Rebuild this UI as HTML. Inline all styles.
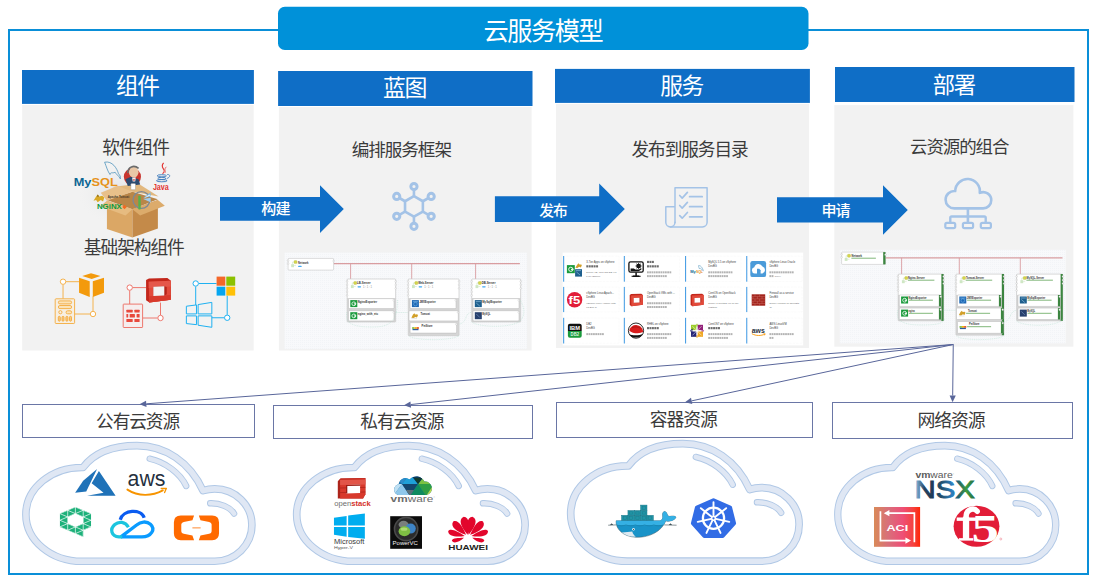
<!DOCTYPE html>
<html lang="zh"><head><meta charset="utf-8"><title>云服务模型</title>
<style>
html,body{margin:0;padding:0;background:#fff;}
body{width:1097px;height:583px;overflow:hidden;font-family:"Liberation Sans",sans-serif;}
svg{display:block;}
.cj{font-family:"Liberation Sans","Noto Sans CJK SC",sans-serif;}
</style></head><body>
<svg width="1097" height="583" viewBox="0 0 1097 583" font-family="Liberation Sans, sans-serif">
<rect width="1097" height="583" fill="#fff"/>
<rect x="9" y="30" width="1079" height="544" fill="none" stroke="#0a8fd8" stroke-width="2"/><rect x="278" y="6.7" width="530.5" height="43.4" rx="6.8" fill="#0091d9"/><text class="cj" x="483.59" y="39.56" font-size="25.24" letter-spacing="-1.51" fill="#fff">云服务模型</text><rect x="22.2" y="105" width="231.5" height="245.5" fill="#f2f2f2"/><rect x="22" y="70" width="231.9" height="33.9" fill="#0f6ec6"/><rect x="278.9" y="107" width="252.7" height="243.5" fill="#f2f2f2"/><rect x="278.1" y="71" width="254.4" height="35.0" fill="#0f6ec6"/><rect x="556" y="103.9" width="253.0" height="244.1" fill="#f2f2f2"/><rect x="555" y="68.9" width="254.9" height="34.0" fill="#0f6ec6"/><rect x="834.3" y="105.1" width="239.1" height="241.6" fill="#f2f2f2"/><rect x="835" y="67" width="239.5" height="35.0" fill="#0f6ec6"/><text class="cj" x="116.05" y="94.37" font-size="22.69" letter-spacing="-1.36" fill="#fff">组件</text><text class="cj" x="382.95" y="96.46" font-size="22.92" letter-spacing="-1.38" fill="#fff">蓝图</text><text class="cj" x="660.23" y="94.15" font-size="22.76" letter-spacing="-1.37" fill="#fff">服务</text><text class="cj" x="932.86" y="93.30" font-size="22.34" letter-spacing="-1.34" fill="#fff">部署</text><text class="cj" x="102.27" y="153.73" font-size="17.70" letter-spacing="-1.06" fill="#3b3b3b">软件组件</text><text class="cj" x="83.83" y="254.49" font-size="17.73" letter-spacing="-1.06" fill="#3b3b3b">基础架构组件</text><text class="cj" x="351.80" y="156.23" font-size="17.59" letter-spacing="-1.06" fill="#3b3b3b">编排服务框架</text><text class="cj" x="631.43" y="155.98" font-size="17.68" letter-spacing="-1.06" fill="#3b3b3b">发布到服务目录</text><text class="cj" x="910.00" y="152.66" font-size="17.47" letter-spacing="-1.05" fill="#3b3b3b">云资源的组合</text><path d="M220 196.9H320V185.2L343.8 209.1L320 233V220.8H220Z" fill="#0f6ec6"/><path d="M494.9 196.2H599.2V183.4L624.8 209.10000000000002L599.2 234.8V221.9H494.9Z" fill="#0f6ec6"/><path d="M777 197.3H883V185.2L907.8 210.0L883 234.8V222.4H777Z" fill="#0f6ec6"/><text class="cj" x="261.34" y="214.46" font-size="15.03" font-weight="500" letter-spacing="-0.90" fill="#fff">构建</text><text class="cj" x="539.13" y="215.52" font-size="14.78" font-weight="500" letter-spacing="-0.89" fill="#fff">发布</text><text class="cj" x="821.42" y="215.91" font-size="15.02" font-weight="500" letter-spacing="-0.90" fill="#fff">申请</text><rect x="22.5" y="404.5" width="232.0" height="33.0" fill="#fff" stroke="#6a76a6" stroke-width="1"/><rect x="273.5" y="405.5" width="259.0" height="33.0" fill="#fff" stroke="#6a76a6" stroke-width="1"/><rect x="556.5" y="402.5" width="256.0" height="35.0" fill="#fff" stroke="#6a76a6" stroke-width="1"/><rect x="832.5" y="402.5" width="240.0" height="36.0" fill="#fff" stroke="#6a76a6" stroke-width="1"/><text class="cj" x="96.06" y="427.94" font-size="17.66" letter-spacing="-1.06" fill="#3b3b3b">公有云资源</text><text class="cj" x="360.27" y="427.58" font-size="17.72" letter-spacing="-1.06" fill="#3b3b3b">私有云资源</text><text class="cj" x="649.80" y="425.69" font-size="17.82" letter-spacing="-1.07" fill="#3b3b3b">容器资源</text><text class="cj" x="917.39" y="426.89" font-size="17.87" letter-spacing="-1.07" fill="#3b3b3b">网络资源</text>
<g fill="none" stroke="#a4c3e7" stroke-width="2.6" stroke-linejoin="round"><path d="M413.95 196.10L422.87 201.25L422.87 211.55L413.95 216.70L405.03 211.55L405.03 201.25Z"/><line x1="413.95" y1="196.10" x2="413.95" y2="189.60"/><circle cx="413.95" cy="186.50" r="3.1" stroke-width="3"/><line x1="422.87" y1="201.25" x2="428.50" y2="198.00"/><circle cx="431.18" cy="196.45" r="3.1" stroke-width="3"/><line x1="422.87" y1="211.55" x2="428.50" y2="214.80"/><circle cx="431.18" cy="216.35" r="3.1" stroke-width="3"/><line x1="413.95" y1="216.70" x2="413.95" y2="223.20"/><circle cx="413.95" cy="226.30" r="3.1" stroke-width="3"/><line x1="405.03" y1="211.55" x2="399.40" y2="214.80"/><circle cx="396.72" cy="216.35" r="3.1" stroke-width="3"/><line x1="405.03" y1="201.25" x2="399.40" y2="198.00"/><circle cx="396.72" cy="196.45" r="3.1" stroke-width="3"/></g><g fill="none" stroke="#a4c3e7" stroke-width="1.5" stroke-linecap="round" stroke-linejoin="round"><path d="M675 222.5V187.8H707.1V222.3A4.6 4.6 0 0 1 702.5 226.9H670.4A4.6 4.6 0 0 1 665.8 222.3V206.8H675"/><path d="M675 222.3A4.6 4.6 0 0 1 670.4 226.9"/><path d="M679.7 195.5L682.2 198.1L687.4 192.4" stroke-width="1.7"/><line x1="689.6" y1="196.7" x2="702.2" y2="196.7" stroke-width="1.7"/><path d="M679.7 205.5L682.2 208.1L687.4 202.4" stroke-width="1.7"/><line x1="689.6" y1="206.7" x2="702.2" y2="206.7" stroke-width="1.7"/><path d="M679.7 215.6L682.2 218.2L687.4 212.5" stroke-width="1.7"/><line x1="689.6" y1="216.8" x2="702.2" y2="216.8" stroke-width="1.7"/></g><g fill="none" stroke="#a4c3e7" stroke-width="2.6" stroke-linejoin="round"><path d="M954.3 208.4A8.7 8.7 0 0 1 945.6 199.7A8.7 8.7 0 0 1 955.2 191.05A12.35 12.35 0 1 1 979.8 192.9A8.05 8.05 0 0 1 991.25 200.35A8.05 8.05 0 0 1 983.2 208.4Z"/><path d="M967.9 208.4V224" /><path d="M950.3 223V217.8A1.3 1.3 0 0 1 951.6 216.5H984.4A1.3 1.3 0 0 1 985.7 217.8V223" stroke-width="2.4"/><rect x="945.3" y="222.8" width="9.9" height="5.4" rx="1.6" stroke-width="2.2"/><rect x="962.9" y="222.8" width="10.2" height="5.4" rx="1.6" stroke-width="2.2"/><rect x="980.8" y="222.8" width="10.1" height="5.4" rx="1.6" stroke-width="2.2"/></g><g fill="none" stroke="#f4ab3d" stroke-width="0.9"><path d="M66 281.7H79.5M63.04 284.7V298.7M93 296.5V311M74.7 314H90"/><circle cx="63.04" cy="281.7" r="2.7" fill="#fff"/><circle cx="93" cy="314" r="2.7" fill="#fff"/><rect x="55.2" y="298.8" width="19.4" height="24.7" rx="0.8" fill="#f7efe2"/><rect x="58.4" y="300.9" width="13.2" height="3" rx="1.5" fill="#fbe3b8"/><rect x="58.4" y="305.5" width="13.2" height="3.1" rx="1.5" fill="#fbe3b8"/><circle cx="60.4" cy="312.2" r="1.6"/><rect x="66.1" y="310.8" width="5.5" height="3" rx="1.4" fill="#fbe3b8"/><rect x="58.3" y="316.3" width="2" height="4.9" rx="1" fill="#f8c983"/><rect x="62" y="316.3" width="2" height="4.9" rx="1" fill="#f8c983"/><rect x="65.9" y="316.3" width="2" height="4.9" rx="1" fill="#f8c983"/><rect x="69.5" y="316.3" width="2" height="4.9" rx="1" fill="#f8c983"/></g><path d="M82.25 275.88L91.03 273.14L100.48 275.88L91.69 278.95Z" fill="#f39a0c"/><path d="M79.07 277.86L89.72 281.37L89.72 297.07L79.07 292.68Z" fill="#f39a0c"/><path d="M92.79 281.37L103.99 277.86L103.99 292.68L92.79 297.07Z" fill="#f39a0c"/><g fill="none" stroke="#ec6a5f" stroke-width="0.9"><path d="M132.7 287.6H146.2M129.7 290.5V304M160.5 302.6V315M142.7 318H157.5"/><circle cx="129.7" cy="287.6" r="2.7" fill="#fff"/><circle cx="160.5" cy="318" r="2.7" fill="#fff"/><rect x="123.2" y="304.1" width="19.4" height="23.4" rx="0.6" fill="#f6eeee"/></g><g fill="#e8493c"><rect x="126.4" y="309.7" width="6.3" height="2.9" rx=".5"/><rect x="134.4" y="309.7" width="5.2" height="2.9" rx=".5"/><rect x="126.4" y="319.1" width="6.3" height="3.0" rx=".5"/><rect x="134.4" y="319.1" width="5.2" height="3.0" rx=".5"/><rect x="126.4" y="314.1" width="1.8" height="3.3" rx=".5"/><rect x="129.7" y="314.1" width="5.2" height="3.3" rx=".5"/><rect x="136.6" y="314.1" width="3" height="3.3" rx=".5"/></g><path d="M146.08 280.10L148.93 278.56L167.38 277.90L170.89 280.76L170.89 299.64L149.48 302.61L146.08 300.19Z" fill="#c3271b"/><path d="M148.71 281.86L170.67 280.76L170.67 299.64L149.26 302.50Z" fill="#e24a3b"/><path d="M148.71 281.86L170.67 280.76L170.67 286.47L148.71 287.89Z" fill="#e5574a"/><path d="M148.71 296.13L170.67 295.03L170.67 299.64L149.26 302.50Z" fill="#d83a2c"/><path d="M153.33 286.69L164.30 286.14L166.72 287.02L166.72 294.37L164.30 295.47L153.33 296.02Z" fill="#b3241a"/><path d="M153.33 286.69L164.30 286.14L164.30 295.47L153.33 296.02Z" fill="#f2f2f2"/><g fill="none" stroke="#1fb1f1" stroke-width="1"><path d="M198.7 283.5H216.6M195.7 286.5V305M227.2 295.6V314.8M211.8 317.75H224.2"/><circle cx="195.7" cy="283.5" r="2.7" fill="#fff"/><circle cx="227.2" cy="317.75" r="2.7" fill="#fff"/><path d="M186.37 306.23L196.47 304.91L196.47 313.91L186.37 313.91Z" /><path d="M198.11 304.58L211.84 302.39L211.84 313.91L198.11 313.91Z" /><path d="M186.37 315.89L196.47 315.89L196.47 324.67L186.37 323.57Z" /><path d="M198.11 315.89L211.84 315.89L211.84 327.31L198.11 325.22Z" /></g><rect x="216.6" y="276.6" width="8.7" height="9.1" fill="#f4672a"/><rect x="226.3" y="276.6" width="8.9" height="9.1" fill="#8cc100"/><rect x="216.6" y="286.7" width="8.7" height="8.9" fill="#05a6f0"/><rect x="226.3" y="286.7" width="8.9" height="8.9" fill="#ffc107"/><defs><g id="cloud"><path d="M82 561.3A56.1 46.9 0 0 1 25.9 514.4A56.1 46.9 0 0 1 83 467.5C94.5 452 115 445.6 137 445.6C165 445.6 190 462 203 490.7A37.2 36.2 0 0 1 214.7 488.9A37.2 36.2 0 0 1 251.9 525.1A37.2 36.2 0 0 1 214.7 561.3Z" fill="#fff" stroke="#b0c8e6" stroke-width="7.6" stroke-linejoin="round"/><path d="M82 561.3A56.1 46.9 0 0 1 25.9 514.4A56.1 46.9 0 0 1 83 467.5C94.5 452 115 445.6 137 445.6C165 445.6 190 462 203 490.7A37.2 36.2 0 0 1 214.7 488.9A37.2 36.2 0 0 1 251.9 525.1A37.2 36.2 0 0 1 214.7 561.3Z" fill="none" stroke="#dfe7f4" stroke-width="5.6" stroke-linejoin="round"/><path d="M149.7 458.7C165 462 180 473 186.2 486" fill="none" stroke="#b0c8e6" stroke-width="6.4" stroke-linecap="round"/><path d="M149.7 458.7C165 462 180 473 186.2 486" fill="none" stroke="#dfe7f4" stroke-width="4.6" stroke-linecap="round"/><path d="M210.2 503.3C220 503 230 507 234.1 513.6" fill="none" stroke="#b0c8e6" stroke-width="6.4" stroke-linecap="round"/><path d="M210.2 503.3C220 503 230 507 234.1 513.6" fill="none" stroke="#dfe7f4" stroke-width="4.6" stroke-linecap="round"/></g></defs><use href="#cloud" transform="translate(0.00 0.00) scale(1.0000 1.0000)"/><use href="#cloud" transform="translate(270.51 0.00) scale(1.0108 1.0000)"/><use href="#cloud" transform="translate(544.51 -9.22) scale(1.0108 1.0163)"/><use href="#cloud" transform="translate(812.78 0.00) scale(0.9645 1.0000)"/><defs><pattern id="dots" width="2" height="2" patternUnits="userSpaceOnUse"><rect width="2" height="2" fill="#f8f9fb"/><rect width="1" height="1" fill="#f2f4f7"/></pattern></defs><rect x="284.6" y="252.6" width="242.3" height="96.3" fill="url(#dots)"/><path d="M333.6 263.6H519.9" stroke="#d99da0" stroke-width="1.2" fill="none"/><path d="M350.6 263.6V278.9" stroke="#d99da0" stroke-width=".9" fill="none"/><path d="M411.7 263.6V278.9" stroke="#d99da0" stroke-width=".9" fill="none"/><path d="M475.6 263.6V278.9" stroke="#d99da0" stroke-width=".9" fill="none"/><rect x="288.1" y="258.4" width="45.5" height="11.7" rx=".8" fill="#fff" stroke="#bdbdbd" stroke-width=".5"/><circle cx="288.1" cy="260.6" r=".85" fill="#fff" stroke="#b8b8b8" stroke-width=".35"/><circle cx="288.1" cy="263.6" r=".85" fill="#fff" stroke="#b8b8b8" stroke-width=".35"/><circle cx="333.6" cy="261.0" r=".85" fill="#fff" stroke="#b8b8b8" stroke-width=".35"/><rect x="294.0" y="260.6" width="3" height="3" rx=".8" fill="#d6d64a" stroke="#a9b13a" stroke-width=".3"/><rect x="291.2" y="264.2" width="2.8" height="3" fill="#cfe7c4"/><path d="M292.6 264.2V262.0H294.0M294.0 265.6H296.0" stroke="#b8d8a8" stroke-width=".4" fill="none"/><text transform="translate(298.1 263.5) scale(.1)" font-size="29" font-weight="bold" fill="#333" textLength="105" lengthAdjust="spacingAndGlyphs">Network</text><rect x="298.1" y="265.8" width="3.6" height="1.3" rx=".65" fill="#3fa9f5"/><rect x="347.1" y="278.9" width="48.6" height="43.2" rx=".8" fill="#d6d6d6" stroke="#c2c2c2" stroke-width=".5"/><rect x="347.6" y="279.4" width="47.6" height="18.6" fill="#fff"/><circle cx="347.1" cy="281.4" r=".85" fill="#fff" stroke="#b8b8b8" stroke-width=".35"/><circle cx="347.1" cy="284.9" r=".85" fill="#fff" stroke="#b8b8b8" stroke-width=".35"/><circle cx="347.1" cy="288.4" r=".85" fill="#fff" stroke="#b8b8b8" stroke-width=".35"/><circle cx="347.1" cy="291.9" r=".85" fill="#fff" stroke="#b8b8b8" stroke-width=".35"/><circle cx="347.1" cy="295.4" r=".85" fill="#fff" stroke="#b8b8b8" stroke-width=".35"/><circle cx="395.7" cy="281.4" r=".85" fill="#fff" stroke="#b8b8b8" stroke-width=".35"/><circle cx="395.7" cy="284.9" r=".85" fill="#fff" stroke="#b8b8b8" stroke-width=".35"/><circle cx="395.7" cy="288.4" r=".85" fill="#fff" stroke="#b8b8b8" stroke-width=".35"/><rect x="353.7" y="281.5" width="3" height="3" rx=".8" fill="#d6d64a" stroke="#a9b13a" stroke-width=".3"/><rect x="350.9" y="285.1" width="2.8" height="3" fill="#cfe7c4"/><path d="M352.3 285.1V282.9H353.7M353.7 286.5H355.7" stroke="#b8d8a8" stroke-width=".4" fill="none"/><text transform="translate(357.1 284.2) scale(.1)" font-size="29" font-weight="bold" fill="#333" textLength="135" lengthAdjust="spacingAndGlyphs">LB-Server</text><rect x="357.5" y="286.2" width="3.6" height="1.3" rx=".65" fill="#3fa9f5"/><text transform="translate(363.1 287.9) scale(.1)" font-size="26" font-weight="normal" fill="#8a8a8a" textLength="90" lengthAdjust="spacingAndGlyphs">1 : 1 : 1</text><rect x="348.5" y="298.6" width="45.5" height="10.0" rx=".8" fill="#fff" stroke="#b9b9b9" stroke-width=".5"/><circle cx="393.7" cy="300.2" r=".85" fill="#fff" stroke="#b8b8b8" stroke-width=".35"/><rect x="350.3" y="300.1" width="7.0" height="7.0" fill="#1a9a3c"/><circle cx="353.8" cy="303.8" r="1.9" fill="none" stroke="#e9f7ec" stroke-width=".9"/><rect x="353.9" y="303.3" width="2.2" height="1.2" fill="#e9f7ec"/><text transform="translate(357.8 302.5) scale(.1)" font-size="29" font-weight="bold" fill="#333" textLength="192" lengthAdjust="spacingAndGlyphs">NginxExporter</text><rect x="348.5" y="310.7" width="45.5" height="10.2" rx=".8" fill="#fff" stroke="#b9b9b9" stroke-width=".5"/><circle cx="393.7" cy="312.3" r=".85" fill="#fff" stroke="#b8b8b8" stroke-width=".35"/><rect x="350.3" y="312.2" width="7.0" height="7.0" fill="#1a9a3c"/><circle cx="353.8" cy="315.9" r="1.9" fill="none" stroke="#e9f7ec" stroke-width=".9"/><rect x="353.9" y="315.4" width="2.2" height="1.2" fill="#e9f7ec"/><text transform="translate(357.8 314.6) scale(.1)" font-size="29" font-weight="bold" fill="#333" textLength="203" lengthAdjust="spacingAndGlyphs">nginx_with_etc</text><rect x="408.2" y="278.9" width="50.9" height="56.8" rx=".8" fill="#d6d6d6" stroke="#c2c2c2" stroke-width=".5"/><rect x="408.7" y="279.4" width="49.9" height="18.6" fill="#fff"/><circle cx="408.2" cy="281.4" r=".85" fill="#fff" stroke="#b8b8b8" stroke-width=".35"/><circle cx="408.2" cy="284.9" r=".85" fill="#fff" stroke="#b8b8b8" stroke-width=".35"/><circle cx="408.2" cy="288.4" r=".85" fill="#fff" stroke="#b8b8b8" stroke-width=".35"/><circle cx="408.2" cy="291.9" r=".85" fill="#fff" stroke="#b8b8b8" stroke-width=".35"/><circle cx="408.2" cy="295.4" r=".85" fill="#fff" stroke="#b8b8b8" stroke-width=".35"/><circle cx="459.1" cy="281.4" r=".85" fill="#fff" stroke="#b8b8b8" stroke-width=".35"/><circle cx="459.1" cy="284.9" r=".85" fill="#fff" stroke="#b8b8b8" stroke-width=".35"/><circle cx="459.1" cy="288.4" r=".85" fill="#fff" stroke="#b8b8b8" stroke-width=".35"/><rect x="414.8" y="281.5" width="3" height="3" rx=".8" fill="#d6d64a" stroke="#a9b13a" stroke-width=".3"/><rect x="412.0" y="285.1" width="2.8" height="3" fill="#cfe7c4"/><path d="M413.4 285.1V282.9H414.8M414.8 286.5H416.8" stroke="#b8d8a8" stroke-width=".4" fill="none"/><text transform="translate(418.2 284.2) scale(.1)" font-size="29" font-weight="bold" fill="#333" textLength="152" lengthAdjust="spacingAndGlyphs">Web-Server</text><rect x="418.6" y="286.2" width="3.6" height="1.3" rx=".65" fill="#3fa9f5"/><text transform="translate(424.2 287.9) scale(.1)" font-size="26" font-weight="normal" fill="#8a8a8a" textLength="90" lengthAdjust="spacingAndGlyphs">1 : 1 : 1</text><rect x="410.1" y="298.6" width="45.9" height="10.0" rx=".8" fill="#fff" stroke="#b9b9b9" stroke-width=".5"/><circle cx="455.7" cy="300.2" r=".85" fill="#fff" stroke="#b8b8b8" stroke-width=".35"/><rect x="411.9" y="300.1" width="7.0" height="7.0" fill="#1f68b4"/><circle cx="415.4" cy="304.1" r="1.8" fill="none" stroke="#6fb2e6" stroke-width=".6"/><path d="M412.9 301.7h5" stroke="#8cc3ee" stroke-width=".6"/><text transform="translate(419.4 302.5) scale(.1)" font-size="29" font-weight="bold" fill="#333" textLength="163" lengthAdjust="spacingAndGlyphs">JMXExporter</text><rect x="409" y="310.7" width="49.3" height="10.2" rx=".8" fill="#fff" stroke="#b9b9b9" stroke-width=".5"/><circle cx="458.0" cy="312.3" r=".85" fill="#fff" stroke="#b8b8b8" stroke-width=".35"/><path d="M411.4 317.7l1.6-3.2 1.4-1.2 .8 1.2 2-.2 .8 1-1 2.2-1.6-.6-1.8 1.2z" fill="#d2a02a"/><path d="M411.4 318.6h5.6" stroke="#bbb" stroke-width=".4"/><text transform="translate(420.5 314.6) scale(.1)" font-size="29" font-weight="bold" fill="#333" textLength="93" lengthAdjust="spacingAndGlyphs">Tomcat</text><rect x="410.1" y="322.6" width="46.5" height="10.5" rx=".8" fill="#fff" stroke="#b9b9b9" stroke-width=".5"/><circle cx="456.3" cy="324.2" r=".85" fill="#fff" stroke="#b8b8b8" stroke-width=".35"/><rect x="412.1" y="327.1" width="2.4" height="1.8" fill="#8bc34a"/><rect x="414.5" y="327.1" width="2.2" height="1.8" fill="#f5b50c"/><rect x="416.7" y="327.1" width="2.2" height="1.8" fill="#ee5a24"/><rect x="412.5" y="328.9" width="6" height="1.3" fill="#2d5d9c"/><text transform="translate(421.6 326.5) scale(.1)" font-size="29" font-weight="bold" fill="#333" textLength="110" lengthAdjust="spacingAndGlyphs">PetStore</text><rect x="471.7" y="278.9" width="49.0" height="43.2" rx=".8" fill="#d6d6d6" stroke="#c2c2c2" stroke-width=".5"/><rect x="472.2" y="279.4" width="48.0" height="18.6" fill="#fff"/><circle cx="471.7" cy="281.4" r=".85" fill="#fff" stroke="#b8b8b8" stroke-width=".35"/><circle cx="471.7" cy="284.9" r=".85" fill="#fff" stroke="#b8b8b8" stroke-width=".35"/><circle cx="471.7" cy="288.4" r=".85" fill="#fff" stroke="#b8b8b8" stroke-width=".35"/><circle cx="471.7" cy="291.9" r=".85" fill="#fff" stroke="#b8b8b8" stroke-width=".35"/><circle cx="471.7" cy="295.4" r=".85" fill="#fff" stroke="#b8b8b8" stroke-width=".35"/><circle cx="520.7" cy="281.4" r=".85" fill="#fff" stroke="#b8b8b8" stroke-width=".35"/><circle cx="520.7" cy="284.9" r=".85" fill="#fff" stroke="#b8b8b8" stroke-width=".35"/><circle cx="520.7" cy="288.4" r=".85" fill="#fff" stroke="#b8b8b8" stroke-width=".35"/><rect x="478.3" y="281.5" width="3" height="3" rx=".8" fill="#d6d64a" stroke="#a9b13a" stroke-width=".3"/><rect x="475.5" y="285.1" width="2.8" height="3" fill="#cfe7c4"/><path d="M476.9 285.1V282.9H478.3M478.3 286.5H480.3" stroke="#b8d8a8" stroke-width=".4" fill="none"/><text transform="translate(481.7 284.2) scale(.1)" font-size="29" font-weight="bold" fill="#333" textLength="138" lengthAdjust="spacingAndGlyphs">DB-Server</text><rect x="482.1" y="286.2" width="3.6" height="1.3" rx=".65" fill="#3fa9f5"/><text transform="translate(487.7 287.9) scale(.1)" font-size="26" font-weight="normal" fill="#8a8a8a" textLength="90" lengthAdjust="spacingAndGlyphs">1 : 1 : 1</text><rect x="473" y="298.6" width="46.0" height="10.0" rx=".8" fill="#fff" stroke="#b9b9b9" stroke-width=".5"/><circle cx="518.7" cy="300.2" r=".85" fill="#fff" stroke="#b8b8b8" stroke-width=".35"/><rect x="474.8" y="300.1" width="7.0" height="7.0" fill="#1e5f8d"/><path d="M475.8 301.6h5M476.3 303.1l3.5 3" stroke="#9cc9e6" stroke-width=".6" fill="none"/><text transform="translate(482.3 302.5) scale(.1)" font-size="29" font-weight="bold" fill="#333" textLength="195" lengthAdjust="spacingAndGlyphs">MySqlExporter</text><rect x="473" y="310.7" width="46.0" height="10.2" rx=".8" fill="#fff" stroke="#b9b9b9" stroke-width=".5"/><circle cx="518.7" cy="312.3" r=".85" fill="#fff" stroke="#b8b8b8" stroke-width=".35"/><rect x="474.8" y="312.2" width="7.0" height="7.0" fill="#27406d"/><path d="M476.3 314.0l3.5 3.5" stroke="#7f9cc6" stroke-width=".6" fill="none"/><text transform="translate(482.3 314.6) scale(.1)" font-size="29" font-weight="bold" fill="#333" textLength="82" lengthAdjust="spacingAndGlyphs">MySQL</text><g fill="none" stroke="#a8dcc8" stroke-width=".4" stroke-dasharray="1 .8"><path d="M347 312C343 326 360 327 372 327S398 326 397.5 300"/><path d="M395.7 312.5H408.2"/><path d="M409 336C415 341 455 341 459.5 335"/><path d="M459.5 324C468 322 464 313 471.7 312.4"/><path d="M471.5 322C480 328 515 328 521 320S522 303 520 300"/></g><rect x="839.8" y="249.8" width="226.0" height="93.5" fill="url(#dots)"/><path d="M885.5 257.9H1062.5" stroke="#d99da0" stroke-width="1.2" fill="none"/><path d="M901.6 257.9V274" stroke="#d99da0" stroke-width=".9" fill="none"/><path d="M959.3 257.9V274" stroke="#d99da0" stroke-width=".9" fill="none"/><path d="M1020.3 257.9V274" stroke="#d99da0" stroke-width=".9" fill="none"/><rect x="841.6" y="252.1" width="43.9" height="12.3" rx=".8" fill="#fff" stroke="#bdbdbd" stroke-width=".5"/><rect x="883.2" y="252.1" width="2.3" height="12.3" fill="#3c8540"/><circle cx="841.6" cy="254.3" r=".85" fill="#fff" stroke="#b8b8b8" stroke-width=".35"/><circle cx="841.6" cy="257.3" r=".85" fill="#fff" stroke="#b8b8b8" stroke-width=".35"/><circle cx="885.5" cy="254.7" r=".85" fill="#fff" stroke="#b8b8b8" stroke-width=".35"/><rect x="847.5" y="254.3" width="3" height="3" rx=".8" fill="#d6d64a" stroke="#a9b13a" stroke-width=".3"/><rect x="844.7" y="257.9" width="2.8" height="3" fill="#cfe7c4"/><path d="M846.1 257.9V255.7H847.5M847.5 259.3H849.5" stroke="#b8d8a8" stroke-width=".4" fill="none"/><text transform="translate(851.6 257.2) scale(.1)" font-size="29" font-weight="bold" fill="#333" textLength="105" lengthAdjust="spacingAndGlyphs">Network</text><path d="M851.4 258.2h24.5" stroke="#58a04e" stroke-width=".75"/><rect x="898.1" y="274" width="45.5" height="46.9" rx=".8" fill="#d6d6d6" stroke="#c2c2c2" stroke-width=".5"/><rect x="898.6" y="274.5" width="44.5" height="20.4" fill="#fff"/><rect x="941.4" y="274" width="2.2" height="46.9" fill="#3c8540"/><circle cx="898.1" cy="276.5" r=".85" fill="#fff" stroke="#b8b8b8" stroke-width=".35"/><circle cx="898.1" cy="280.0" r=".85" fill="#fff" stroke="#b8b8b8" stroke-width=".35"/><circle cx="898.1" cy="283.5" r=".85" fill="#fff" stroke="#b8b8b8" stroke-width=".35"/><circle cx="898.1" cy="287.0" r=".85" fill="#fff" stroke="#b8b8b8" stroke-width=".35"/><circle cx="898.1" cy="290.5" r=".85" fill="#fff" stroke="#b8b8b8" stroke-width=".35"/><circle cx="943.6" cy="276.5" r=".85" fill="#fff" stroke="#b8b8b8" stroke-width=".35"/><circle cx="943.6" cy="280.0" r=".85" fill="#fff" stroke="#b8b8b8" stroke-width=".35"/><circle cx="943.6" cy="283.5" r=".85" fill="#fff" stroke="#b8b8b8" stroke-width=".35"/><rect x="904.7" y="276.6" width="3" height="3" rx=".8" fill="#d6d64a" stroke="#a9b13a" stroke-width=".3"/><rect x="901.9" y="280.2" width="2.8" height="3" fill="#cfe7c4"/><path d="M903.3 280.2V278.0H904.7M904.7 281.6H906.7" stroke="#b8d8a8" stroke-width=".4" fill="none"/><text transform="translate(908.1 279.3) scale(.1)" font-size="29" font-weight="bold" fill="#333" textLength="166" lengthAdjust="spacingAndGlyphs">Nginx-Server</text><path d="M907.9 280.2h26.5" stroke="#58a04e" stroke-width=".75"/><rect x="899.3" y="295" width="41.7" height="11.4" rx=".8" fill="#fff" stroke="#b9b9b9" stroke-width=".5"/><rect x="938.9" y="295" width="2.1" height="11.4" fill="#3c8540"/><circle cx="940.7" cy="296.6" r=".85" fill="#fff" stroke="#b8b8b8" stroke-width=".35"/><rect x="901.1" y="296.5" width="7.0" height="7.0" fill="#1a9a3c"/><circle cx="904.6" cy="300.2" r="1.9" fill="none" stroke="#e9f7ec" stroke-width=".9"/><rect x="904.7" y="299.7" width="2.2" height="1.2" fill="#e9f7ec"/><text transform="translate(908.6 298.9) scale(.1)" font-size="29" font-weight="bold" fill="#333" textLength="180" lengthAdjust="spacingAndGlyphs">NginxExporter</text><path d="M908.9 300.2h24" stroke="#58a04e" stroke-width=".75"/><rect x="899.3" y="308.1" width="41.7" height="11.4" rx=".8" fill="#fff" stroke="#b9b9b9" stroke-width=".5"/><rect x="938.9" y="308.1" width="2.1" height="11.4" fill="#3c8540"/><circle cx="940.7" cy="309.7" r=".85" fill="#fff" stroke="#b8b8b8" stroke-width=".35"/><rect x="901.1" y="309.6" width="7.0" height="7.0" fill="#1a9a3c"/><circle cx="904.6" cy="313.3" r="1.9" fill="none" stroke="#e9f7ec" stroke-width=".9"/><rect x="904.7" y="312.8" width="2.2" height="1.2" fill="#e9f7ec"/><text transform="translate(908.6 312.0) scale(.1)" font-size="29" font-weight="bold" fill="#333" textLength="63" lengthAdjust="spacingAndGlyphs">nginx</text><path d="M908.9 313.3h24" stroke="#58a04e" stroke-width=".75"/><rect x="955.9" y="274" width="48.1" height="61.2" rx=".8" fill="#d6d6d6" stroke="#c2c2c2" stroke-width=".5"/><rect x="956.4" y="274.5" width="47.1" height="20.4" fill="#fff"/><rect x="1001.8" y="274" width="2.2" height="61.2" fill="#3c8540"/><circle cx="955.9" cy="276.5" r=".85" fill="#fff" stroke="#b8b8b8" stroke-width=".35"/><circle cx="955.9" cy="280.0" r=".85" fill="#fff" stroke="#b8b8b8" stroke-width=".35"/><circle cx="955.9" cy="283.5" r=".85" fill="#fff" stroke="#b8b8b8" stroke-width=".35"/><circle cx="955.9" cy="287.0" r=".85" fill="#fff" stroke="#b8b8b8" stroke-width=".35"/><circle cx="955.9" cy="290.5" r=".85" fill="#fff" stroke="#b8b8b8" stroke-width=".35"/><circle cx="1004.0" cy="276.5" r=".85" fill="#fff" stroke="#b8b8b8" stroke-width=".35"/><circle cx="1004.0" cy="280.0" r=".85" fill="#fff" stroke="#b8b8b8" stroke-width=".35"/><circle cx="1004.0" cy="283.5" r=".85" fill="#fff" stroke="#b8b8b8" stroke-width=".35"/><rect x="962.5" y="276.6" width="3" height="3" rx=".8" fill="#d6d64a" stroke="#a9b13a" stroke-width=".3"/><rect x="959.7" y="280.2" width="2.8" height="3" fill="#cfe7c4"/><path d="M961.1 280.2V278.0H962.5M962.5 281.6H964.5" stroke="#b8d8a8" stroke-width=".4" fill="none"/><text transform="translate(965.9 279.3) scale(.1)" font-size="29" font-weight="bold" fill="#333" textLength="180" lengthAdjust="spacingAndGlyphs">Tomcat-Server</text><path d="M965.7 280.2h26.5" stroke="#58a04e" stroke-width=".75"/><rect x="957.5" y="295" width="43.5" height="11.4" rx=".8" fill="#fff" stroke="#b9b9b9" stroke-width=".5"/><rect x="998.9" y="295" width="2.1" height="11.4" fill="#3c8540"/><circle cx="1000.7" cy="296.6" r=".85" fill="#fff" stroke="#b8b8b8" stroke-width=".35"/><rect x="959.3" y="296.5" width="7.0" height="7.0" fill="#1f68b4"/><circle cx="962.8" cy="300.5" r="1.8" fill="none" stroke="#6fb2e6" stroke-width=".6"/><path d="M960.3 298.1h5" stroke="#8cc3ee" stroke-width=".6"/><text transform="translate(966.8 298.9) scale(.1)" font-size="29" font-weight="bold" fill="#333" textLength="155" lengthAdjust="spacingAndGlyphs">JMXExporter</text><path d="M967.1 300.2h24" stroke="#58a04e" stroke-width=".75"/><rect x="956.5" y="308.1" width="46.5" height="11.4" rx=".8" fill="#fff" stroke="#b9b9b9" stroke-width=".5"/><rect x="1000.9" y="308.1" width="2.1" height="11.4" fill="#3c8540"/><circle cx="1002.7" cy="309.7" r=".85" fill="#fff" stroke="#b8b8b8" stroke-width=".35"/><path d="M958.9 315.1l1.6-3.2 1.4-1.2 .8 1.2 2-.2 .8 1-1 2.2-1.6-.6-1.8 1.2z" fill="#d2a02a"/><path d="M958.9 316.0h5.6" stroke="#bbb" stroke-width=".4"/><text transform="translate(968.0 312.0) scale(.1)" font-size="29" font-weight="bold" fill="#333" textLength="88" lengthAdjust="spacingAndGlyphs">Tomcat</text><path d="M966.1 313.3h24" stroke="#58a04e" stroke-width=".75"/><rect x="957.5" y="321.5" width="45.5" height="11.8" rx=".8" fill="#fff" stroke="#b9b9b9" stroke-width=".5"/><rect x="1000.9" y="321.5" width="2.1" height="11.8" fill="#3c8540"/><circle cx="1002.7" cy="323.1" r=".85" fill="#fff" stroke="#b8b8b8" stroke-width=".35"/><rect x="959.5" y="326.0" width="2.4" height="1.8" fill="#8bc34a"/><rect x="961.9" y="326.0" width="2.2" height="1.8" fill="#f5b50c"/><rect x="964.1" y="326.0" width="2.2" height="1.8" fill="#ee5a24"/><rect x="959.9" y="327.8" width="6" height="1.3" fill="#2d5d9c"/><text transform="translate(969.0 325.4) scale(.1)" font-size="29" font-weight="bold" fill="#333" textLength="105" lengthAdjust="spacingAndGlyphs">PetStore</text><path d="M967.1 326.7h24" stroke="#58a04e" stroke-width=".75"/><rect x="1016.6" y="274" width="46.2" height="46.9" rx=".8" fill="#d6d6d6" stroke="#c2c2c2" stroke-width=".5"/><rect x="1017.1" y="274.5" width="45.2" height="20.4" fill="#fff"/><rect x="1060.6" y="274" width="2.2" height="46.9" fill="#3c8540"/><circle cx="1016.6" cy="276.5" r=".85" fill="#fff" stroke="#b8b8b8" stroke-width=".35"/><circle cx="1016.6" cy="280.0" r=".85" fill="#fff" stroke="#b8b8b8" stroke-width=".35"/><circle cx="1016.6" cy="283.5" r=".85" fill="#fff" stroke="#b8b8b8" stroke-width=".35"/><circle cx="1016.6" cy="287.0" r=".85" fill="#fff" stroke="#b8b8b8" stroke-width=".35"/><circle cx="1016.6" cy="290.5" r=".85" fill="#fff" stroke="#b8b8b8" stroke-width=".35"/><circle cx="1062.8" cy="276.5" r=".85" fill="#fff" stroke="#b8b8b8" stroke-width=".35"/><circle cx="1062.8" cy="280.0" r=".85" fill="#fff" stroke="#b8b8b8" stroke-width=".35"/><circle cx="1062.8" cy="283.5" r=".85" fill="#fff" stroke="#b8b8b8" stroke-width=".35"/><rect x="1023.2" y="276.6" width="3" height="3" rx=".8" fill="#d6d64a" stroke="#a9b13a" stroke-width=".3"/><rect x="1020.4" y="280.2" width="2.8" height="3" fill="#cfe7c4"/><path d="M1021.8 280.2V278.0H1023.2M1023.2 281.6H1025.2" stroke="#b8d8a8" stroke-width=".4" fill="none"/><text transform="translate(1026.6 279.3) scale(.1)" font-size="29" font-weight="bold" fill="#333" textLength="175" lengthAdjust="spacingAndGlyphs">MySQL-Server</text><path d="M1026.4 280.2h26.5" stroke="#58a04e" stroke-width=".75"/><rect x="1018" y="295" width="42.0" height="11.4" rx=".8" fill="#fff" stroke="#b9b9b9" stroke-width=".5"/><rect x="1057.9" y="295" width="2.1" height="11.4" fill="#3c8540"/><circle cx="1059.7" cy="296.6" r=".85" fill="#fff" stroke="#b8b8b8" stroke-width=".35"/><rect x="1019.8" y="296.5" width="7.0" height="7.0" fill="#1e5f8d"/><path d="M1020.8 298.0h5M1021.3 299.5l3.5 3" stroke="#9cc9e6" stroke-width=".6" fill="none"/><text transform="translate(1027.3 298.9) scale(.1)" font-size="29" font-weight="bold" fill="#333" textLength="180" lengthAdjust="spacingAndGlyphs">MySqlExporter</text><path d="M1027.6 300.2h24" stroke="#58a04e" stroke-width=".75"/><rect x="1018" y="308.1" width="42.0" height="11.4" rx=".8" fill="#fff" stroke="#b9b9b9" stroke-width=".5"/><rect x="1057.9" y="308.1" width="2.1" height="11.4" fill="#3c8540"/><circle cx="1059.7" cy="309.7" r=".85" fill="#fff" stroke="#b8b8b8" stroke-width=".35"/><rect x="1019.8" y="309.6" width="7.0" height="7.0" fill="#27406d"/><path d="M1021.3 311.4l3.5 3.5" stroke="#7f9cc6" stroke-width=".6" fill="none"/><text transform="translate(1027.3 312.0) scale(.1)" font-size="29" font-weight="bold" fill="#333" textLength="78" lengthAdjust="spacingAndGlyphs">MySQL</text><path d="M1027.6 313.3h24" stroke="#58a04e" stroke-width=".75"/><g fill="none" stroke="#a8dcc8" stroke-width=".4" stroke-dasharray="1 .8"><path d="M898 310C894 324 910 325 922 325S945 324 944.5 318"/><path d="M943.6 310.2H956"/><path d="M956.5 336C962 341 1000 341 1004.5 335"/><path d="M1004 322C1012 320 1009 311 1016.6 310.4"/><path d="M1016.5 321C1024 327 1058 327 1063 319"/></g><rect x="562.6" y="252.6" width="240.6" height="92.8" fill="#fff"/><rect x="563.1" y="256" width="1.1" height="25.7" fill="#4aa0e6"/><rect x="564.5" y="256.2" width="54.5" height="25.3" fill="none" stroke="#ececec" stroke-width=".35" stroke-dasharray=".6 .8"/><text transform="translate(586.3 262.9) scale(.1)" font-size="27" font-weight="normal" fill="#3c3c3c">3-Tier Apps on vSphere</text><rect x="586.30" y="265.26" width="1.97" height="2.16" fill="#3c3c3c" opacity=".75"/><rect x="588.75" y="265.26" width="1.97" height="2.16" fill="#3c3c3c" opacity=".75"/><rect x="591.20" y="265.26" width="1.97" height="2.16" fill="#3c3c3c" opacity=".75"/><rect x="593.64" y="265.26" width="1.97" height="2.16" fill="#3c3c3c" opacity=".75"/><rect x="596.09" y="265.26" width="1.97" height="2.16" fill="#3c3c3c" opacity=".75"/><text transform="translate(586.3 273.2) scale(.1)" font-size="24" font-weight="normal" fill="#707070">Deploy LB, Web and DB VM</text><text transform="translate(586.3 277.0) scale(.1)" font-size="24" font-weight="normal" fill="#707070">s on vSphere</text><rect x="623.8" y="256" width="1.1" height="25.7" fill="#4aa0e6"/><rect x="625.2" y="256.2" width="54.5" height="25.3" fill="none" stroke="#ececec" stroke-width=".35" stroke-dasharray=".6 .8"/><rect x="647.00" y="260.86" width="1.97" height="2.16" fill="#3c3c3c" opacity=".75"/><rect x="649.45" y="260.86" width="1.97" height="2.16" fill="#3c3c3c" opacity=".75"/><rect x="651.90" y="260.86" width="1.97" height="2.16" fill="#3c3c3c" opacity=".75"/><rect x="647.00" y="265.26" width="1.97" height="2.16" fill="#3c3c3c" opacity=".75"/><rect x="649.45" y="265.26" width="1.97" height="2.16" fill="#3c3c3c" opacity=".75"/><rect x="651.90" y="265.26" width="1.97" height="2.16" fill="#3c3c3c" opacity=".75"/><rect x="654.34" y="265.26" width="1.97" height="2.16" fill="#3c3c3c" opacity=".75"/><rect x="656.79" y="265.26" width="1.97" height="2.16" fill="#3c3c3c" opacity=".75"/><rect x="647.00" y="271.33" width="1.80" height="1.98" fill="#999" opacity=".75"/><rect x="649.24" y="271.33" width="1.80" height="1.98" fill="#999" opacity=".75"/><rect x="651.49" y="271.33" width="1.80" height="1.98" fill="#999" opacity=".75"/><rect x="653.73" y="271.33" width="1.80" height="1.98" fill="#999" opacity=".75"/><rect x="655.98" y="271.33" width="1.80" height="1.98" fill="#999" opacity=".75"/><rect x="658.22" y="271.33" width="1.80" height="1.98" fill="#999" opacity=".75"/><rect x="660.46" y="271.33" width="1.80" height="1.98" fill="#999" opacity=".75"/><rect x="662.71" y="271.33" width="1.80" height="1.98" fill="#999" opacity=".75"/><rect x="664.95" y="271.33" width="1.80" height="1.98" fill="#999" opacity=".75"/><rect x="667.20" y="271.33" width="1.80" height="1.98" fill="#999" opacity=".75"/><rect x="669.44" y="271.33" width="1.80" height="1.98" fill="#999" opacity=".75"/><rect x="647.00" y="275.13" width="1.80" height="1.98" fill="#999" opacity=".75"/><rect x="649.24" y="275.13" width="1.80" height="1.98" fill="#999" opacity=".75"/><rect x="651.49" y="275.13" width="1.80" height="1.98" fill="#999" opacity=".75"/><rect x="653.73" y="275.13" width="1.80" height="1.98" fill="#999" opacity=".75"/><rect x="655.98" y="275.13" width="1.80" height="1.98" fill="#999" opacity=".75"/><rect x="658.22" y="275.13" width="1.80" height="1.98" fill="#999" opacity=".75"/><rect x="660.46" y="275.13" width="1.80" height="1.98" fill="#999" opacity=".75"/><rect x="662.71" y="275.13" width="1.80" height="1.98" fill="#999" opacity=".75"/><rect x="664.95" y="275.13" width="1.80" height="1.98" fill="#999" opacity=".75"/><rect x="685.0" y="256" width="1.1" height="25.7" fill="#4aa0e6"/><rect x="686.4" y="256.2" width="54.5" height="25.3" fill="none" stroke="#ececec" stroke-width=".35" stroke-dasharray=".6 .8"/><text transform="translate(708.2 262.9) scale(.1)" font-size="27" font-weight="normal" fill="#3c3c3c">MySQL 5.5 on vSphere</text><text transform="translate(708.2 267.3) scale(.1)" font-size="27" font-weight="normal" fill="#3c3c3c">DevBG</text><rect x="708.20" y="271.33" width="1.80" height="1.98" fill="#999" opacity=".75"/><rect x="710.44" y="271.33" width="1.80" height="1.98" fill="#999" opacity=".75"/><rect x="712.69" y="271.33" width="1.80" height="1.98" fill="#999" opacity=".75"/><rect x="714.93" y="271.33" width="1.80" height="1.98" fill="#999" opacity=".75"/><rect x="717.18" y="271.33" width="1.80" height="1.98" fill="#999" opacity=".75"/><rect x="719.42" y="271.33" width="1.80" height="1.98" fill="#999" opacity=".75"/><rect x="721.66" y="271.33" width="1.80" height="1.98" fill="#999" opacity=".75"/><rect x="723.91" y="271.33" width="1.80" height="1.98" fill="#999" opacity=".75"/><rect x="726.15" y="271.33" width="1.80" height="1.98" fill="#999" opacity=".75"/><rect x="728.40" y="271.33" width="1.80" height="1.98" fill="#999" opacity=".75"/><rect x="730.64" y="271.33" width="1.80" height="1.98" fill="#999" opacity=".75"/><rect x="708.20" y="275.13" width="1.80" height="1.98" fill="#999" opacity=".75"/><rect x="710.44" y="275.13" width="1.80" height="1.98" fill="#999" opacity=".75"/><rect x="712.69" y="275.13" width="1.80" height="1.98" fill="#999" opacity=".75"/><rect x="714.93" y="275.13" width="1.80" height="1.98" fill="#999" opacity=".75"/><rect x="717.18" y="275.13" width="1.80" height="1.98" fill="#999" opacity=".75"/><rect x="719.42" y="275.13" width="1.80" height="1.98" fill="#999" opacity=".75"/><rect x="721.66" y="275.13" width="1.80" height="1.98" fill="#999" opacity=".75"/><rect x="723.91" y="275.13" width="1.80" height="1.98" fill="#999" opacity=".75"/><rect x="726.15" y="275.13" width="1.80" height="1.98" fill="#999" opacity=".75"/><rect x="746.2" y="256" width="1.1" height="25.7" fill="#4aa0e6"/><rect x="747.6" y="256.2" width="54.5" height="25.3" fill="none" stroke="#ececec" stroke-width=".35" stroke-dasharray=".6 .8"/><text transform="translate(769.4 262.9) scale(.1)" font-size="27" font-weight="normal" fill="#3c3c3c">vSphere Linux Oracle</text><text transform="translate(769.4 267.3) scale(.1)" font-size="27" font-weight="normal" fill="#3c3c3c">DevBG</text><rect x="769.40" y="271.33" width="1.80" height="1.98" fill="#999" opacity=".75"/><rect x="771.64" y="271.33" width="1.80" height="1.98" fill="#999" opacity=".75"/><rect x="773.89" y="271.33" width="1.80" height="1.98" fill="#999" opacity=".75"/><rect x="776.13" y="271.33" width="1.80" height="1.98" fill="#999" opacity=".75"/><rect x="778.38" y="271.33" width="1.80" height="1.98" fill="#999" opacity=".75"/><rect x="780.62" y="271.33" width="1.80" height="1.98" fill="#999" opacity=".75"/><rect x="782.86" y="271.33" width="1.80" height="1.98" fill="#999" opacity=".75"/><rect x="785.11" y="271.33" width="1.80" height="1.98" fill="#999" opacity=".75"/><rect x="787.35" y="271.33" width="1.80" height="1.98" fill="#999" opacity=".75"/><rect x="789.60" y="271.33" width="1.80" height="1.98" fill="#999" opacity=".75"/><rect x="791.84" y="271.33" width="1.80" height="1.98" fill="#999" opacity=".75"/><rect x="769.40" y="275.13" width="1.80" height="1.98" fill="#999" opacity=".75"/><rect x="771.64" y="275.13" width="1.80" height="1.98" fill="#999" opacity=".75"/><text transform="translate(774.4 277.0) scale(.1)" font-size="22" font-weight="normal" fill="#8c8c8c">Oracle</text><rect x="563.1" y="286.9" width="1.1" height="25.2" fill="#4aa0e6"/><rect x="564.5" y="287.1" width="54.5" height="24.8" fill="none" stroke="#ececec" stroke-width=".35" stroke-dasharray=".6 .8"/><text transform="translate(586.3 293.8) scale(.1)" font-size="27" font-weight="normal" fill="#3c3c3c">vSphere Linux Apach...</text><text transform="translate(586.3 298.2) scale(.1)" font-size="27" font-weight="normal" fill="#3c3c3c">DevBG</text><text transform="translate(586.3 304.1) scale(.1)" font-size="24" font-weight="normal" fill="#707070">vSphere Linux Apache With</text><text transform="translate(586.3 307.9) scale(.1)" font-size="24" font-weight="normal" fill="#707070">F5 BIG-IP</text><rect x="623.8" y="286.9" width="1.1" height="25.2" fill="#4aa0e6"/><rect x="625.2" y="287.1" width="54.5" height="24.8" fill="none" stroke="#ececec" stroke-width=".35" stroke-dasharray=".6 .8"/><text transform="translate(647.0 293.8) scale(.1)" font-size="27" font-weight="normal" fill="#3c3c3c">OpenStack VMs with ...</text><text transform="translate(647.0 298.2) scale(.1)" font-size="27" font-weight="normal" fill="#3c3c3c">DevBG</text><rect x="647.00" y="302.23" width="1.80" height="1.98" fill="#999" opacity=".75"/><rect x="649.24" y="302.23" width="1.80" height="1.98" fill="#999" opacity=".75"/><rect x="651.49" y="302.23" width="1.80" height="1.98" fill="#999" opacity=".75"/><rect x="653.73" y="302.23" width="1.80" height="1.98" fill="#999" opacity=".75"/><rect x="655.98" y="302.23" width="1.80" height="1.98" fill="#999" opacity=".75"/><rect x="658.22" y="302.23" width="1.80" height="1.98" fill="#999" opacity=".75"/><rect x="660.46" y="302.23" width="1.80" height="1.98" fill="#999" opacity=".75"/><rect x="662.71" y="302.23" width="1.80" height="1.98" fill="#999" opacity=".75"/><rect x="664.95" y="302.23" width="1.80" height="1.98" fill="#999" opacity=".75"/><rect x="667.20" y="302.23" width="1.80" height="1.98" fill="#999" opacity=".75"/><rect x="669.44" y="302.23" width="1.80" height="1.98" fill="#999" opacity=".75"/><rect x="647.00" y="306.03" width="1.80" height="1.98" fill="#999" opacity=".75"/><rect x="649.24" y="306.03" width="1.80" height="1.98" fill="#999" opacity=".75"/><rect x="651.49" y="306.03" width="1.80" height="1.98" fill="#999" opacity=".75"/><rect x="653.73" y="306.03" width="1.80" height="1.98" fill="#999" opacity=".75"/><rect x="655.98" y="306.03" width="1.80" height="1.98" fill="#999" opacity=".75"/><rect x="658.22" y="306.03" width="1.80" height="1.98" fill="#999" opacity=".75"/><rect x="660.46" y="306.03" width="1.80" height="1.98" fill="#999" opacity=".75"/><rect x="662.71" y="306.03" width="1.80" height="1.98" fill="#999" opacity=".75"/><rect x="664.95" y="306.03" width="1.80" height="1.98" fill="#999" opacity=".75"/><rect x="685.0" y="286.9" width="1.1" height="25.2" fill="#4aa0e6"/><rect x="686.4" y="287.1" width="54.5" height="24.8" fill="none" stroke="#ececec" stroke-width=".35" stroke-dasharray=".6 .8"/><text transform="translate(708.2 293.8) scale(.1)" font-size="27" font-weight="normal" fill="#3c3c3c">CentOS on OpenStack</text><text transform="translate(708.2 298.2) scale(.1)" font-size="27" font-weight="normal" fill="#3c3c3c">DevBG</text><text transform="translate(708.2 304.1) scale(.1)" font-size="24" font-weight="normal" fill="#707070">Deploy a CentOS VM on Op</text><text transform="translate(708.2 307.9) scale(.1)" font-size="24" font-weight="normal" fill="#707070">enStack.</text><rect x="746.2" y="286.9" width="1.1" height="25.2" fill="#4aa0e6"/><rect x="747.6" y="287.1" width="54.5" height="24.8" fill="none" stroke="#ececec" stroke-width=".35" stroke-dasharray=".6 .8"/><text transform="translate(769.4 293.8) scale(.1)" font-size="27" font-weight="normal" fill="#3c3c3c">Firewall as a service</text><text transform="translate(769.4 298.2) scale(.1)" font-size="27" font-weight="normal" fill="#3c3c3c">DevBG</text><text transform="translate(769.4 304.1) scale(.1)" font-size="24" font-weight="normal" fill="#707070">Deploy Firewall on OpenSta</text><text transform="translate(769.4 307.9) scale(.1)" font-size="24" font-weight="normal" fill="#707070">ck</text><rect x="563.1" y="317.8" width="1.1" height="25.7" fill="#4aa0e6"/><rect x="564.5" y="318.0" width="54.5" height="25.3" fill="none" stroke="#ececec" stroke-width=".35" stroke-dasharray=".6 .8"/><text transform="translate(586.3 324.7) scale(.1)" font-size="27" font-weight="normal" fill="#3c3c3c">DB2</text><text transform="translate(586.3 329.1) scale(.1)" font-size="27" font-weight="normal" fill="#3c3c3c">DevBG</text><rect x="586.30" y="333.13" width="1.80" height="1.98" fill="#999" opacity=".75"/><rect x="588.54" y="333.13" width="1.80" height="1.98" fill="#999" opacity=".75"/><rect x="590.79" y="333.13" width="1.80" height="1.98" fill="#999" opacity=".75"/><rect x="593.03" y="333.13" width="1.80" height="1.98" fill="#999" opacity=".75"/><rect x="595.28" y="333.13" width="1.80" height="1.98" fill="#999" opacity=".75"/><rect x="597.52" y="333.13" width="1.80" height="1.98" fill="#999" opacity=".75"/><rect x="599.76" y="333.13" width="1.80" height="1.98" fill="#999" opacity=".75"/><rect x="602.01" y="333.13" width="1.80" height="1.98" fill="#999" opacity=".75"/><rect x="623.8" y="317.8" width="1.1" height="25.7" fill="#4aa0e6"/><rect x="625.2" y="318.0" width="54.5" height="25.3" fill="none" stroke="#ececec" stroke-width=".35" stroke-dasharray=".6 .8"/><text transform="translate(647.0 324.7) scale(.1)" font-size="27" font-weight="normal" fill="#3c3c3c">RHEL on vSphere</text><rect x="647.00" y="327.06" width="1.97" height="2.16" fill="#3c3c3c" opacity=".75"/><rect x="649.45" y="327.06" width="1.97" height="2.16" fill="#3c3c3c" opacity=".75"/><rect x="651.90" y="327.06" width="1.97" height="2.16" fill="#3c3c3c" opacity=".75"/><rect x="654.34" y="327.06" width="1.97" height="2.16" fill="#3c3c3c" opacity=".75"/><rect x="656.79" y="327.06" width="1.97" height="2.16" fill="#3c3c3c" opacity=".75"/><rect x="647.00" y="333.13" width="1.80" height="1.98" fill="#999" opacity=".75"/><rect x="649.24" y="333.13" width="1.80" height="1.98" fill="#999" opacity=".75"/><rect x="651.49" y="333.13" width="1.80" height="1.98" fill="#999" opacity=".75"/><rect x="653.73" y="333.13" width="1.80" height="1.98" fill="#999" opacity=".75"/><rect x="655.98" y="333.13" width="1.80" height="1.98" fill="#999" opacity=".75"/><rect x="658.22" y="333.13" width="1.80" height="1.98" fill="#999" opacity=".75"/><rect x="660.46" y="333.13" width="1.80" height="1.98" fill="#999" opacity=".75"/><rect x="662.71" y="333.13" width="1.80" height="1.98" fill="#999" opacity=".75"/><rect x="664.95" y="333.13" width="1.80" height="1.98" fill="#999" opacity=".75"/><rect x="667.20" y="333.13" width="1.80" height="1.98" fill="#999" opacity=".75"/><rect x="669.44" y="333.13" width="1.80" height="1.98" fill="#999" opacity=".75"/><rect x="647.00" y="336.93" width="1.80" height="1.98" fill="#999" opacity=".75"/><rect x="649.24" y="336.93" width="1.80" height="1.98" fill="#999" opacity=".75"/><rect x="651.49" y="336.93" width="1.80" height="1.98" fill="#999" opacity=".75"/><rect x="653.73" y="336.93" width="1.80" height="1.98" fill="#999" opacity=".75"/><rect x="655.98" y="336.93" width="1.80" height="1.98" fill="#999" opacity=".75"/><rect x="658.22" y="336.93" width="1.80" height="1.98" fill="#999" opacity=".75"/><rect x="660.46" y="336.93" width="1.80" height="1.98" fill="#999" opacity=".75"/><rect x="662.71" y="336.93" width="1.80" height="1.98" fill="#999" opacity=".75"/><rect x="664.95" y="336.93" width="1.80" height="1.98" fill="#999" opacity=".75"/><rect x="685.0" y="317.8" width="1.1" height="25.7" fill="#4aa0e6"/><rect x="686.4" y="318.0" width="54.5" height="25.3" fill="none" stroke="#ececec" stroke-width=".35" stroke-dasharray=".6 .8"/><text transform="translate(708.2 324.7) scale(.1)" font-size="27" font-weight="normal" fill="#3c3c3c">CentOS7 on vSphere</text><rect x="708.20" y="327.06" width="1.97" height="2.16" fill="#3c3c3c" opacity=".75"/><rect x="710.65" y="327.06" width="1.97" height="2.16" fill="#3c3c3c" opacity=".75"/><rect x="713.10" y="327.06" width="1.97" height="2.16" fill="#3c3c3c" opacity=".75"/><rect x="715.54" y="327.06" width="1.97" height="2.16" fill="#3c3c3c" opacity=".75"/><rect x="717.99" y="327.06" width="1.97" height="2.16" fill="#3c3c3c" opacity=".75"/><rect x="708.20" y="333.13" width="1.80" height="1.98" fill="#999" opacity=".75"/><rect x="710.44" y="333.13" width="1.80" height="1.98" fill="#999" opacity=".75"/><rect x="712.69" y="333.13" width="1.80" height="1.98" fill="#999" opacity=".75"/><rect x="714.93" y="333.13" width="1.80" height="1.98" fill="#999" opacity=".75"/><rect x="717.18" y="333.13" width="1.80" height="1.98" fill="#999" opacity=".75"/><rect x="719.42" y="333.13" width="1.80" height="1.98" fill="#999" opacity=".75"/><rect x="721.66" y="333.13" width="1.80" height="1.98" fill="#999" opacity=".75"/><rect x="723.91" y="333.13" width="1.80" height="1.98" fill="#999" opacity=".75"/><rect x="726.15" y="333.13" width="1.80" height="1.98" fill="#999" opacity=".75"/><rect x="728.40" y="333.13" width="1.80" height="1.98" fill="#999" opacity=".75"/><rect x="730.64" y="333.13" width="1.80" height="1.98" fill="#999" opacity=".75"/><rect x="708.20" y="336.93" width="1.80" height="1.98" fill="#999" opacity=".75"/><rect x="710.44" y="336.93" width="1.80" height="1.98" fill="#999" opacity=".75"/><rect x="712.69" y="336.93" width="1.80" height="1.98" fill="#999" opacity=".75"/><rect x="714.93" y="336.93" width="1.80" height="1.98" fill="#999" opacity=".75"/><rect x="717.18" y="336.93" width="1.80" height="1.98" fill="#999" opacity=".75"/><rect x="719.42" y="336.93" width="1.80" height="1.98" fill="#999" opacity=".75"/><rect x="721.66" y="336.93" width="1.80" height="1.98" fill="#999" opacity=".75"/><rect x="723.91" y="336.93" width="1.80" height="1.98" fill="#999" opacity=".75"/><rect x="726.15" y="336.93" width="1.80" height="1.98" fill="#999" opacity=".75"/><rect x="746.2" y="317.8" width="1.1" height="25.7" fill="#4aa0e6"/><rect x="747.6" y="318.0" width="54.5" height="25.3" fill="none" stroke="#ececec" stroke-width=".35" stroke-dasharray=".6 .8"/><text transform="translate(769.4 324.7) scale(.1)" font-size="27" font-weight="normal" fill="#3c3c3c">AWS LinuxVM</text><text transform="translate(769.4 329.1) scale(.1)" font-size="27" font-weight="normal" fill="#3c3c3c">DevBG</text><rect x="769.40" y="333.13" width="1.80" height="1.98" fill="#999" opacity=".75"/><rect x="771.64" y="333.13" width="1.80" height="1.98" fill="#999" opacity=".75"/><rect x="773.89" y="333.13" width="1.80" height="1.98" fill="#999" opacity=".75"/><rect x="776.13" y="333.13" width="1.80" height="1.98" fill="#999" opacity=".75"/><rect x="778.38" y="333.13" width="1.80" height="1.98" fill="#999" opacity=".75"/><rect x="780.62" y="333.13" width="1.80" height="1.98" fill="#999" opacity=".75"/><rect x="782.86" y="333.13" width="1.80" height="1.98" fill="#999" opacity=".75"/><rect x="785.11" y="333.13" width="1.80" height="1.98" fill="#999" opacity=".75"/><rect x="787.35" y="333.13" width="1.80" height="1.98" fill="#999" opacity=".75"/><rect x="789.60" y="333.13" width="1.80" height="1.98" fill="#999" opacity=".75"/><rect x="791.84" y="333.13" width="1.80" height="1.98" fill="#999" opacity=".75"/><rect x="769.40" y="336.93" width="1.80" height="1.98" fill="#999" opacity=".75"/><rect x="771.64" y="336.93" width="1.80" height="1.98" fill="#999" opacity=".75"/><rect x="566.9" y="265.1" width="7.9" height="8.1" fill="#1a9a3c"/><circle cx="570.8" cy="269.3" r="2.1" fill="none" stroke="#e9f7ec" stroke-width="1"/><rect x="571" y="268.8" width="2.4" height="1.3" fill="#e9f7ec"/><rect x="575.1" y="269.2" width="6.9" height="7.4" fill="#1e5f8d"/><path d="M576 270.6h5M576.5 272l3.5 3" stroke="#9cc9e6" stroke-width=".6" fill="none"/><path d="M575.4 267.8l1.8-3 1.4-1.6 .8 1.4 2-.2 .4 1-1 2-1.6-.6-1.8 1.2z" fill="#d2a02a"/><rect x="628.9" y="261.8" width="14.3" height="10.4" rx="1.6" fill="#fff" stroke="#111" stroke-width="1.3"/><path d="M633 276.2h6.2M636.1 272.5v3.4" stroke="#111" stroke-width="1.5" fill="none"/><path d="M631.6 276.3h9" stroke="#111" stroke-width="1.1"/><circle cx="638.6" cy="266" r="2.3" fill="#111"/><circle cx="638.6" cy="266" r=".8" fill="#fff"/><path d="M638.6 262.9v6.2M635.5 266h6.2M636.4 263.8l4.4 4.4M640.8 263.8l-4.4 4.4" stroke="#111" stroke-width=".8"/><path d="M630.6 268.6h3.2l1.6 1h3.4l2.6-1.4v1.2l-2.8 1.8h-8z" fill="#111"/><text transform="translate(690.2 272.6) scale(.1)" font-size="42" font-weight="bold" fill="#0b6593" textLength="56" lengthAdjust="spacingAndGlyphs">My</text><text transform="translate(695.9 272.6) scale(.1)" font-size="42" font-weight="bold" fill="#e6921a" textLength="70" lengthAdjust="spacingAndGlyphs">SQL</text><path d="M698.5 265.6C700.5 265 702.6 267.8 703.4 270.8C702.4 269.8 701.4 269.6 700.8 268.6C700 269 699.6 268 699.4 268.8C698.8 267.8 698.6 266.6 698.5 265.6Z" fill="#f7fbfd" stroke="#3a86b4" stroke-width=".45"/><rect x="750.3" y="261.1" width="15.8" height="16" rx="2.2" fill="#4b9bd9"/><path d="M754.6 273.4A3.1 3.1 0 0 1 754.3 267.3A4.3 4.3 0 0 1 762.4 266.6A3.5 3.5 0 0 1 762.3 273.4Z" fill="#fff"/><path d="M757 268.8h2.2l1.4 1.4v3.8h-3.6z" fill="#4b9bd9"/><path d="M629.7 294.9L631.1 294.0L641.3000000000001 293.7L642.9000000000001 295.09999999999997V304.7L631.5 306.3L629.7 305.1Z" fill="#c3271b"/><path d="M631.1 295.59999999999997L642.8000000000001 295.09999999999997V304.7L631.4000000000001 306.3Z" fill="#e24a3b"/><path d="M633.7 298.0L639.5 297.7L640.5 298.2V302.0L639.5 302.5L633.7 302.8Z" fill="#b3241a"/><path d="M633.7 298.0L639.5 297.7V302.5L633.7 302.8Z" fill="#fff"/><path d="M690.6 294.9L692.0 294.0L702.1 293.7L703.7 295.09999999999997V304.7L692.4 306.3L690.6 305.1Z" fill="#c3271b"/><path d="M692.0 295.59999999999997L703.6 295.09999999999997V304.7L692.3000000000001 306.3Z" fill="#e24a3b"/><path d="M694.5 298.0L700.3 297.7L701.3 298.2V302.0L700.3 302.5L694.5 302.8Z" fill="#b3241a"/><path d="M694.5 298.0L700.3 297.7V302.5L694.5 302.8Z" fill="#fff"/><circle cx="574.6" cy="299.7" r="7.7" fill="#e21d38"/><text transform="translate(568.6 303.6) scale(.1)" font-size="115" font-weight="bold" fill="#fff" textLength="116" lengthAdjust="spacingAndGlyphs">f5</text><rect x="751.7" y="294.3" width="13.5" height="11.4" fill="#a3241c"/><path d="M751.7 296.6h13.5M751.7 298.9h13.5M751.7 301.2h13.5M751.7 303.5h13.5" stroke="#d9867c" stroke-width=".35"/><path d="M755 294.3v2.3M759.6 294.3v2.3M753 296.6v2.3M757.4 296.6v2.3M762 296.6v2.3M755 298.9v2.3M759.6 298.9v2.3M753 301.2v2.3M757.4 301.2v2.3M762 301.2v2.3M755 303.5v2.2M759.6 303.5v2.2" stroke="#d9867c" stroke-width=".35"/><path d="M567.9 325.8A2 2 0 0 1 569.9 323.8H579.7A2 2 0 0 1 581.7 325.8V331H567.9Z" fill="#111"/><path d="M567.9 331H581.7V335.8A2 2 0 0 1 579.7 337.8H569.9A2 2 0 0 1 567.9 335.8Z" fill="#1a9a3c"/><text transform="translate(569.5 329.8) scale(.1)" font-size="56" font-weight="bold" fill="#fff" textLength="106" lengthAdjust="spacingAndGlyphs">IBM</text><text transform="translate(570.6 336.4) scale(.1)" font-size="46" font-weight="bold" fill="#dff5e4" textLength="84" lengthAdjust="spacingAndGlyphs">DB2</text><circle cx="636" cy="330.6" r="7.6" fill="#fff" stroke="#111" stroke-width=".9"/><path d="M629.4 334.2C631 338.6 641 338.8 642.6 334C640 335.6 632 335.8 629.4 334.2Z" fill="#111"/><path d="M629.2 330.4C630.4 326.6 633.6 324.6 637 325.2C640.6 325.6 642.8 328.4 643.2 331.8C640.6 334 632.2 333.8 629.2 330.4Z" fill="#d81e1e"/><path d="M632 327.8C634 326.4 638.6 326.6 640.4 328.4" stroke="#8e1111" stroke-width=".6" fill="none"/><g transform="translate(697 330.8)"><g transform="rotate(0)"><rect x="-6" y="-6" width="5.4" height="5.4" fill="#9ccd2a"/><path d="M0 -7.2L2.4 -4.4H-2.4Z" fill="#9ccd2a"/></g><g transform="rotate(90)"><rect x="-6" y="-6" width="5.4" height="5.4" fill="#932279"/><path d="M0 -7.2L2.4 -4.4H-2.4Z" fill="#932279"/></g><g transform="rotate(180)"><rect x="-6" y="-6" width="5.4" height="5.4" fill="#efa724"/><path d="M0 -7.2L2.4 -4.4H-2.4Z" fill="#efa724"/></g><g transform="rotate(270)"><rect x="-6" y="-6" width="5.4" height="5.4" fill="#262577"/><path d="M0 -7.2L2.4 -4.4H-2.4Z" fill="#262577"/></g><path d="M-6.6 0H6.6M0 -6.6V6.6M-4.6 -4.6L4.6 4.6M-4.6 4.6L4.6 -4.6" stroke="#fff" stroke-width=".5"/></g><text transform="translate(751.8 332.6) scale(.1)" font-size="72" font-weight="bold" fill="#252f3e" textLength="130" lengthAdjust="spacingAndGlyphs">aws</text><path d="M752.2 333.9C756 336 761 336 764.8 334.2" fill="none" stroke="#f79400" stroke-width=".9" stroke-linecap="round"/><path d="M763.4 333.6l1.8 .2-.6 1.6" fill="none" stroke="#f79400" stroke-width=".6"/><path d="M97.07 468.96L83.17 480.85L75.14 492.74L86.25 491.51Z" fill="#1f72b8" /><path d="M98.92 471.12L91.66 483.17L103.55 492.74L87.03 495.83L115.60 495.83Z" fill="#1f72b8" /><text x="127.6" y="485.6" font-size="21.2" font-weight="normal" fill="#252f3e" textLength="37.8" lengthAdjust="spacingAndGlyphs" >aws</text><path d="M127.4 489.6C138 496.6 152 496.4 162.8 490.4" fill="none" stroke="#f79400" stroke-width="1.9" stroke-linecap="round"/><path d="M161.2 488.5L166.4 488.3L164.6 492.6" fill="none" stroke="#f79400" stroke-width="1.3" stroke-linejoin="round" stroke-linecap="round"/><defs><clipPath id="qclip"><path d="M75.38 506.94L91.03 513.60L91.03 526.91L83.21 530.24L83.21 536.90L75.38 533.57L59.94 526.91L59.94 513.60ZM75.38 513.60L83.21 516.93L83.21 523.59L75.38 526.91L67.70 523.59L67.70 516.93Z" clip-rule="evenodd"/></clipPath></defs><path d="M75.38 506.94L91.03 513.60L91.03 526.91L83.21 530.24L83.21 536.90L75.38 533.57L59.94 526.91L59.94 513.60ZM75.38 513.60L83.21 516.93L83.21 523.59L75.38 526.91L67.70 523.59L67.70 516.93Z" fill="#1db17a" fill-rule="evenodd"/><g stroke="#fff" stroke-width=".7" fill="none" clip-path="url(#qclip)"><path d="M67.70 504.75L67.70 539.06"/><path d="M75.38 504.75L75.38 539.06"/><path d="M83.21 504.75L83.21 539.06"/><path d="M59.12 479.99L92.06 494.13"/><path d="M59.12 493.95L92.06 479.81"/><path d="M59.12 486.65L92.06 500.78"/><path d="M59.12 500.61L92.06 486.47"/><path d="M59.12 493.30L92.06 507.44"/><path d="M59.12 507.27L92.06 493.13"/><path d="M59.12 499.96L92.06 514.10"/><path d="M59.12 513.92L92.06 499.78"/><path d="M59.12 506.62L92.06 520.76"/><path d="M59.12 520.58L92.06 506.44"/><path d="M59.12 513.28L92.06 527.41"/><path d="M59.12 527.24L92.06 513.10"/><path d="M59.12 519.93L92.06 534.07"/><path d="M59.12 533.90L92.06 519.76"/><path d="M59.12 526.59L92.06 540.73"/><path d="M59.12 540.55L92.06 526.41"/><path d="M59.12 533.25L92.06 547.39"/><path d="M59.12 547.21L92.06 533.07"/><path d="M59.12 539.91L92.06 554.05"/><path d="M59.12 553.87L92.06 539.73"/><path d="M59.12 546.56L92.06 560.70"/><path d="M59.12 560.53L92.06 546.39"/></g><path d="M120.23 519.69C123.02 509.52 141.07 508.53 144.19 517.72" fill="none" stroke="#0a5cf0" stroke-width="3.3"/><path d="M120.89 536.92L141.89 536.92C151.41 536.92 155.84 529.21 150.43 524.29C146.49 520.68 140.58 521.66 136.64 524.94L120.89 536.92" fill="none" stroke="#0a9bff" stroke-width="3.3" stroke-linejoin="round"/><path d="M128.44 527.24C125.16 521.66 118.92 521.00 114.82 524.61C109.40 529.21 111.37 536.43 118.92 536.92L122.20 536.92" fill="none" stroke="#1cc5de" stroke-width="3.3" stroke-linecap="butt"/><path d="M194.08 515.59L180.78 515.59Q173.89 515.59 173.89 522.48L173.89 533.31Q173.89 540.20 180.78 540.20L194.08 540.20L192.44 535.44L183.74 533.80Q181.28 533.31 181.28 531.18L181.28 524.61Q181.28 522.48 183.74 521.99L192.44 520.35Z" fill="#ff6a00"/><path d="M198.83 515.59L212.13 515.59Q219.02 515.59 219.02 522.48L219.02 533.31Q219.02 540.20 212.13 540.20L198.83 540.20L200.48 535.44L209.17 533.80Q211.63 533.31 211.63 531.18L211.63 524.61Q211.63 522.48 209.17 521.99L200.48 520.35Z" fill="#ff6a00"/><rect x="192.4" y="527.2" width="8.2" height="1.3" fill="#ffa561"/><path d="M337.80 481.13L340.59 478.50L365.37 478.01L365.37 494.26L363.07 498.52L337.80 498.52Z" fill="#ad241a" /><path d="M340.10 479.81L365.37 479.16L365.37 494.26L363.07 498.52L340.10 498.52Z" fill="#d8392c" /><path d="M340.10 479.81L365.37 479.16L365.37 484.41L340.10 484.90Z" fill="#e25548" /><path d="M337.80 481.13L340.59 478.50L365.37 478.01L365.37 479.16L340.10 479.81Z" fill="#c93024" /><path d="M346.00 484.90L360.12 484.41L360.12 492.94L346.00 493.43Z" fill="#fff" /><path d="M346.00 484.90L360.12 484.41L360.12 485.72L347.32 486.05L347.32 493.43L346.00 493.43Z" fill="#9c1d14" /><path d="M340.10 488.02L346.00 487.86M360.12 487.53L365.37 487.36M340.10 492.61L346.00 492.45M360.12 492.12L365.37 491.96" stroke="#a8231a" stroke-width=".7"/><text x="334.3" y="505.8" font-size="7.9" textLength="36.4" lengthAdjust="spacingAndGlyphs"><tspan fill="#6d6d6d">open</tspan><tspan fill="#d4322a" font-weight="bold">stack</tspan></text><defs><clipPath id="vmc"><path d="M398 495A5.6 5.6 0 0 1 398.6 484.2A7 7 0 0 1 409.6 479.4A9 9 0 0 1 424.4 481.6A6.8 6.8 0 0 1 426.6 495Z"/></clipPath></defs><g clip-path="url(#vmc)"><rect x="392" y="474" width="42" height="22" fill="#1b6fa8"/><path d="M393 496L402 484L410 496Z" fill="#8fc7ea"/><path d="M393 484L402 484L393 496Z" fill="#bfe0f3"/><path d="M402 484L410 474L418 484Z" fill="#1fa0d8"/><path d="M402 484L418 484L410 496Z" fill="#14466e"/><path d="M410 496L418 484L426 496Z" fill="#0f8a5f"/><path d="M418 484L426 474L434 484Z" fill="#7cc242"/><path d="M418 484L434 484L426 496Z" fill="#2f9e44"/><path d="M426 496L434 484L434 496Z" fill="#b5d94a"/><path d="M410 474L426 474L418 484Z" fill="#0d3a5c"/><path d="M393 474L410 474L402 484Z" fill="#2c8cc9"/><path d="M406 490L414 490L410 496Z" fill="#5a6f7a"/><path d="M414 478L422 478L418 484Z" fill="#123a2c"/></g><text x="390.6" y="502.4" font-size="9.4" fill="#6b6b6b" textLength="42.6" lengthAdjust="spacingAndGlyphs"><tspan font-weight="bold">vm</tspan>ware</text><text x="433.6" y="498.4" font-size="2" fill="#6b6b6b">®</text><path d="M333.96 517.73L346.62 515.88L346.62 525.45L333.96 525.45Z" fill="#00adef" /><path d="M348.17 515.57L364.85 513.56L364.85 525.45L348.17 525.45Z" fill="#00adef" /><path d="M333.96 527.00L346.62 527.00L346.62 536.73L333.96 534.72Z" fill="#00adef" /><path d="M348.17 527.00L364.85 527.00L364.85 538.73L348.17 536.88Z" fill="#00adef" /><text x="334.0" y="543.5" font-size="6.6" font-weight="normal" fill="#3a3a3a" textLength="30.4" lengthAdjust="spacingAndGlyphs" >Microsoft</text><text x="334.0" y="548.6" font-size="4.3" font-weight="normal" fill="#555" textLength="19.0" lengthAdjust="spacingAndGlyphs" >Hyper-V</text><rect x="390.2" y="516.2" width="31.8" height="32.6" fill="#0c0c0c"/><circle cx="406.1" cy="529" r="11.6" fill="#2b2b2b" stroke="#4a4a4a" stroke-width="1.6"/><ellipse cx="403.6" cy="524.6" rx="5" ry="3.8" fill="#7a7f7d"/><ellipse cx="410.6" cy="528.6" rx="5.2" ry="5" fill="#3e84c6"/><ellipse cx="404.4" cy="531.2" rx="5.8" ry="5" fill="#7fc043"/><ellipse cx="404" cy="529.2" rx="3.4" ry="1.6" fill="#b9e07f" opacity=".8"/><text x="392.6" y="545.2" font-size="5.8" font-weight="normal" fill="#f2f2f2" textLength="25.2" lengthAdjust="spacingAndGlyphs" >PowerVC</text><path d="M0 -2.40C3.50 -10.68 5.50 -19.33 -0.42 -20.80C-6.90 -19.33 -4.90 -10.68 0 -2.40Z" fill="#e2062c" transform="translate(468.1 537.1) rotate(-11)"/><path d="M0 -3.00C2.86 -11.37 4.70 -20.11 -0.60 -21.60C-6.70 -20.11 -4.86 -11.37 0 -3.00Z" fill="#e2062c" transform="translate(468.1 537.1) rotate(-42)"/><path d="M0 -3.60C1.82 -11.34 3.26 -19.42 -0.72 -20.80C-5.66 -19.42 -4.22 -11.34 0 -3.60Z" fill="#e2062c" transform="translate(468.1 537.1) rotate(-71)"/><path d="M0 -4.20C0.60 -9.78 1.60 -15.61 -0.90 -16.60C-4.60 -15.61 -3.60 -9.78 0 -4.20Z" fill="#e2062c" transform="translate(468.1 537.1) rotate(-99)"/><path d="M0 -2.40C4.90 -10.68 6.90 -19.33 0.42 -20.80C-5.50 -19.33 -3.50 -10.68 0 -2.40Z" fill="#e2062c" transform="translate(468.1 537.1) rotate(11)"/><path d="M0 -3.00C4.86 -11.37 6.70 -20.11 0.60 -21.60C-4.70 -20.11 -2.86 -11.37 0 -3.00Z" fill="#e2062c" transform="translate(468.1 537.1) rotate(42)"/><path d="M0 -3.60C4.22 -11.34 5.66 -19.42 0.72 -20.80C-3.26 -19.42 -1.82 -11.34 0 -3.60Z" fill="#e2062c" transform="translate(468.1 537.1) rotate(71)"/><path d="M0 -4.20C3.60 -9.78 4.60 -15.61 0.90 -16.60C-1.60 -15.61 -0.60 -9.78 0 -4.20Z" fill="#e2062c" transform="translate(468.1 537.1) rotate(99)"/><text x="448.3" y="549.7" font-size="7.2" font-weight="bold" fill="#231f20" textLength="39.6" lengthAdjust="spacingAndGlyphs" >HUAWEI</text><rect x="621.61" y="515.35" width="6.34" height="5.74" fill="#2094a6" stroke="#1a7889" stroke-width=".5"/><rect x="623.21" y="516.65" width="3.14" height="3.14" fill="none" stroke="#1a7889" stroke-width=".4"/><rect x="627.95" y="515.35" width="6.34" height="5.74" fill="#2094a6" stroke="#1a7889" stroke-width=".5"/><rect x="629.55" y="516.65" width="3.14" height="3.14" fill="none" stroke="#1a7889" stroke-width=".4"/><rect x="634.30" y="515.35" width="6.34" height="5.74" fill="#2094a6" stroke="#1a7889" stroke-width=".5"/><rect x="635.90" y="516.65" width="3.14" height="3.14" fill="none" stroke="#1a7889" stroke-width=".4"/><rect x="640.64" y="515.35" width="6.34" height="5.74" fill="#2094a6" stroke="#1a7889" stroke-width=".5"/><rect x="642.24" y="516.65" width="3.14" height="3.14" fill="none" stroke="#1a7889" stroke-width=".4"/><rect x="646.98" y="515.35" width="6.34" height="5.74" fill="#2094a6" stroke="#1a7889" stroke-width=".5"/><rect x="648.58" y="516.65" width="3.14" height="3.14" fill="none" stroke="#1a7889" stroke-width=".4"/><rect x="627.95" y="510.56" width="6.34" height="4.79" fill="#2094a6" stroke="#1a7889" stroke-width=".5"/><rect x="629.55" y="511.86" width="3.14" height="2.19" fill="none" stroke="#1a7889" stroke-width=".4"/><rect x="634.30" y="510.56" width="6.34" height="4.79" fill="#2094a6" stroke="#1a7889" stroke-width=".5"/><rect x="635.90" y="511.86" width="3.14" height="2.19" fill="none" stroke="#1a7889" stroke-width=".4"/><rect x="640.64" y="510.56" width="6.34" height="4.79" fill="#2094a6" stroke="#1a7889" stroke-width=".5"/><rect x="642.24" y="511.86" width="3.14" height="2.19" fill="none" stroke="#1a7889" stroke-width=".4"/><rect x="640.64" y="505.09" width="6.34" height="5.47" fill="#2094a6" stroke="#1a7889" stroke-width=".5"/><rect x="642.24" y="506.39" width="3.14" height="2.87" fill="none" stroke="#1a7889" stroke-width=".4"/><path d="M616.14 520.82L660.17 520.82C662.35 520.00 663.18 518.36 662.63 515.35C662.22 512.34 664.27 510.43 665.91 512.07C667.82 513.98 667.00 516.44 669.74 516.44C672.47 515.76 675.21 515.90 676.03 517.26C674.66 520.27 669.74 521.64 665.64 521.09C661.53 532.03 647.86 538.05 635.55 537.23C623.25 536.54 615.32 529.02 616.14 520.82Z" fill="#1993c8" stroke="#3a5561" stroke-width=".5"/><path d="M616.14 520.82L660.17 520.82C662.35 520.00 663.18 518.36 662.63 515.35C662.22 512.34 664.27 510.43 665.91 512.07C667.82 513.98 667.00 516.44 669.74 516.44C672.47 515.76 675.21 515.90 676.03 517.26C674.66 520.27 669.74 521.64 665.64 521.09C665.09 522.87 664.27 523.83 663.59 524.92L616.68 524.92Z" fill="#35b0e4"/><path d="M621.88 532.44C625.98 532.03 629.40 532.03 632.27 531.48C632.82 533.81 634.19 535.59 635.83 536.82C630.08 536.68 625.30 535.18 621.88 532.44Z" fill="#dfe9f0"/><circle cx="633.50" cy="529.30" r="1.2" fill="#fff"/><circle cx="633.60" cy="529.30" r=".6" fill="#2c3e46"/><path d="M608.20 525.19L616.14 524.92M664.27 524.92L676.58 525.19" stroke="#3a4d54" stroke-width=".6" fill="none"/><path d="M610.26 524.92l1.4 -1.2l1.4 1.2M669.06 524.92l1.4 -1.2l1.4 1.2" stroke="#3a4d54" stroke-width=".6" fill="#3a4d54"/><path d="M616.68 524.65C619.01 526.29 623.66 526.29 625.98 524.65C628.31 526.29 632.96 526.29 635.28 524.65C637.60 526.29 642.25 526.29 644.58 524.65C646.90 526.29 651.55 526.29 653.88 524.65C656.20 526.29 660.85 526.29 663.18 524.65" stroke="#1b6f8f" stroke-width=".5" fill="none" opacity=".7"/><path d="M713.50 496.70L730.39 504.83L734.56 523.11L722.87 537.76L704.13 537.76L692.44 523.11L696.61 504.83Z" fill="#326ce5" stroke="#326ce5" stroke-width="4" stroke-linejoin="round" transform="translate(713.50 519.10) scale(.98 .88) translate(-713.50 -518.30)"/><circle cx="713.5" cy="518.3" r="10.6" fill="none" stroke="#fff" stroke-width="2.3"/><path d="M713.50 515.90L713.50 502.10" stroke="#fff" stroke-width="1.9" stroke-linecap="round"/><path d="M715.38 516.80L726.17 508.20" stroke="#fff" stroke-width="1.9" stroke-linecap="round"/><path d="M715.84 518.83L729.29 521.90" stroke="#fff" stroke-width="1.9" stroke-linecap="round"/><path d="M714.54 520.46L720.53 532.90" stroke="#fff" stroke-width="1.9" stroke-linecap="round"/><path d="M712.46 520.46L706.47 532.90" stroke="#fff" stroke-width="1.9" stroke-linecap="round"/><path d="M711.16 518.83L697.71 521.90" stroke="#fff" stroke-width="1.9" stroke-linecap="round"/><path d="M711.62 516.80L700.83 508.20" stroke="#fff" stroke-width="1.9" stroke-linecap="round"/><circle cx="713.5" cy="518.3" r="2.6" fill="#fff"/><circle cx="713.5" cy="518.3" r="1.1" fill="#326ce5"/><text x="915.4" y="477.7" font-size="8.2" fill="#5a5a5a" textLength="37.4" lengthAdjust="spacingAndGlyphs"><tspan font-weight="bold">vm</tspan>ware</text><text x="952.8" y="474.6" font-size="1.8" fill="#5a5a5a">®</text><defs><linearGradient id="nsxg" gradientUnits="userSpaceOnUse" x1="915" y1="0" x2="975" y2="0"><stop offset="0" stop-color="#8fc3e6"/><stop offset=".16" stop-color="#22415f"/><stop offset=".3" stop-color="#1d3a55"/><stop offset=".45" stop-color="#23506f"/><stop offset=".62" stop-color="#2b7fc1"/><stop offset=".72" stop-color="#1f5f6c"/><stop offset=".86" stop-color="#3d9a3f"/><stop offset="1" stop-color="#1f6a4c"/></linearGradient></defs><text x="914.6" y="497.5" font-size="24.4" font-weight="normal" stroke="url(#nsxg)" stroke-width=".9" fill="url(#nsxg)" textLength="60.2" lengthAdjust="spacingAndGlyphs">NSX</text><defs><linearGradient id="acig" x1="0" y1="0" x2="1" y2="0"><stop offset="0" stop-color="#d98a58"/><stop offset=".3" stop-color="#d8707a"/><stop offset=".62" stop-color="#ee4f77"/><stop offset=".85" stop-color="#f5423f"/><stop offset="1" stop-color="#ff2608"/></linearGradient></defs><rect x="874" y="507" width="46.1" height="39.8" fill="url(#acig)"/><path d="M880.43 511.30L880.43 540.62L908.98 540.62" fill="none" stroke="#fff" stroke-width="1.7"/><path d="M914.38 542.16L914.38 513.15L885.83 513.15" fill="none" stroke="#fff" stroke-width="1.7"/><path d="M910.99 540.62L905.43 537.53L905.43 543.70Z" fill="#fff" /><path d="M883.83 513.15L889.38 510.06L889.38 516.23Z" fill="#fff" /><text x="886.4" y="530.7" font-size="9.6" font-weight="bold" fill="#fff" textLength="21.8" lengthAdjust="spacingAndGlyphs" >ACI</text><ellipse cx="976.5" cy="526.3" rx="22.9" ry="20.5" fill="#e21d38"/><rect x="962.87" y="516.70" width="6.33" height="22.69" fill="#fff"/><rect x="959.01" y="538.15" width="14.20" height="2.47" fill="#fff"/><rect x="956.70" y="517.47" width="19.60" height="3.40" fill="#fff"/><path d="M966.11 518.24C965.49 508.98 973.67 506.98 977.22 511.30" fill="none" stroke="#fff" stroke-width="5.4" stroke-linecap="round"/><text x="971.6" y="542.2" font-size="41" font-weight="bold" fill="#fff" textLength="27.4" lengthAdjust="spacingAndGlyphs" font-family="Liberation Serif, serif" >5</text><circle cx="1000.8" cy="539" r="1" fill="none" stroke="#e21d38" stroke-width=".3"/><defs><radialGradient id="bxsh"><stop offset="0" stop-color="#d9dbe0" stop-opacity=".9"/><stop offset="1" stop-color="#f2f2f2" stop-opacity="0"/></radialGradient></defs><ellipse cx="117.0" cy="194.6" rx="40" ry="30" fill="url(#bxsh)"/><path d="M106.93 200.02L132.41 191.83L157.89 199.24L132.41 209.28Z" fill="#b98648" /><path d="M112.33 186.89L138.59 183.80L158.66 196.46L132.41 191.83Z" fill="#e2b87e" /><path d="M100.75 192.76L117.74 185.65L132.41 191.83L106.93 200.79Z" fill="#e8c08a" /><path d="M106.93 200.79L132.41 209.28L132.41 237.54L106.93 228.90Z" fill="#dba765" /><path d="M132.41 209.28L157.89 200.02L157.89 228.59L132.41 237.54Z" fill="#c48a49" /><path d="M106.93 200.79L132.41 209.28L125.46 215.46L100.29 206.19Z" fill="#e6bb80" /><path d="M132.41 209.28L157.89 200.02L164.84 205.73L140.13 215.46Z" fill="#dcab6b" /><text x="73.7" y="185.8" font-size="11.2" font-weight="bold" textLength="44" lengthAdjust="spacingAndGlyphs"><tspan fill="#0b6593">My</tspan><tspan fill="#e6921a">SQL</tspan></text><path d="M104.61 162.18C112.33 160.63 116.97 168.36 118.51 173.76C120.05 175.31 120.83 176.85 120.36 178.86C118.51 175.31 116.19 174.53 115.11 172.22C112.33 173.76 110.79 171.44 110.02 174.53C107.70 171.44 106.46 166.81 104.61 162.18Z" fill="none" stroke="#3a86b4" stroke-width="0.7" fill="#f4f8fb"/><circle cx="132.4" cy="176.8" r="8.6" fill="#c8352e"/><ellipse cx="133.7" cy="172.2" rx="4.8" ry="5.4" fill="#e9c7a6"/><path d="M127.78 172.99C127.78 166.81 133.95 164.49 138.59 168.36" fill="none" stroke="#6b6b6b" stroke-width="1.6" /><path d="M125.46 179.17L130.86 176.85L138.59 179.17L140.13 184.57L127.78 186.12Z" fill="#2d4b70" /><path d="M132.10 177.62L135.81 177.62L135.19 181.48L132.72 181.48Z" fill="#f2f2f2" /><path d="M133.03 179.17L134.88 179.17L134.26 181.02L133.64 181.02Z" fill="#c8352e" /><rect x="130.9" y="183.5" width="4.6" height="6.2" rx=".8" fill="#fff" stroke="#8a8a8a" stroke-width=".4"/><path d="M163.61 162.95C158.66 168.36 167.93 169.13 162.53 173.76" fill="none" stroke="#e2312f" stroke-width="1.1" /><path d="M166.39 166.81C163.30 169.90 166.39 170.67 164.84 172.99" fill="none" stroke="#e2312f" stroke-width="0.7" /><ellipse cx="161.8" cy="175.8" rx="4.6" ry="1.1" fill="none" stroke="#3b78ba" stroke-width=".9"/><ellipse cx="161.8" cy="178.4" rx="4.0" ry="1.1" fill="none" stroke="#3b78ba" stroke-width=".9"/><ellipse cx="161.8" cy="180.7" rx="5.3" ry="1.1" fill="none" stroke="#3b78ba" stroke-width=".9"/><path d="M167.16 174.53C171.02 174.22 170.25 177.62 166.69 178.55" fill="none" stroke="#3b78ba" stroke-width="0.8" /><text x="152.9" y="190.3" font-size="8.6" font-weight="bold" fill="#e2312f" textLength="15.8" lengthAdjust="spacingAndGlyphs">Java</text><path d="M93.49 200.79L96.12 196.46L97.66 194.61L99.20 196.46L102.29 195.85L104.30 197.39L103.07 201.56L100.75 200.02L97.66 202.33L96.12 200.02Z" fill="#d9a928" /><path d="M96.89 196.46L97.81 194.61L99.05 196.46Z" fill="#7a5a18" /><text x="107.7" y="197.9" font-size="2.8" fill="#4a3a2a" textLength="21.5" lengthAdjust="spacingAndGlyphs" font-weight="bold">Apache Tomcat</text><text x="96.9" y="209.3" font-size="6.6" font-weight="bold" fill="#0a9a3e" textLength="25" lengthAdjust="spacingAndGlyphs">NGiNX</text><path d="M122.3 207.0L124.5 204.8L126.7 207.0L124.5 209.2Z" fill="#f26a21"/><circle cx="141.4" cy="200.0" r="8.4" fill="none" stroke="#7d8994" stroke-width="1.4"/><rect x="138.3" y="195.8" width="2.4" height="13.6" rx=".6" fill="#55b24c"/><path d="M150.63 192.29L143.22 198.01L150.63 196.46Z" fill="#7fb9e3" /><path d="M150.63 197.70L143.22 198.93L150.63 202.33Z" fill="#9fcdee" /><path d="M143.22 198.63L149.40 194.61L150.17 195.54Z" fill="#e8f3fb" /><g stroke="#59669a" stroke-width="1" fill="#59669a"><line x1="953.25" y1="344.5" x2="146.28" y2="403.80"/><path stroke="none" d="M139.50 404.30L146.05 400.71L146.51 406.89Z"/><line x1="953.25" y1="344.5" x2="410.76" y2="404.55"/><path stroke="none" d="M404.00 405.30L410.42 401.47L411.10 407.63Z"/><line x1="953.25" y1="344.5" x2="691.65" y2="400.87"/><path stroke="none" d="M685.00 402.30L690.99 397.84L692.30 403.90Z"/><line x1="953.25" y1="344.5" x2="952.68" y2="395.50"/><path stroke="none" d="M952.60 402.30L949.58 395.47L955.78 395.54Z"/></g>
</svg>
</body></html>
